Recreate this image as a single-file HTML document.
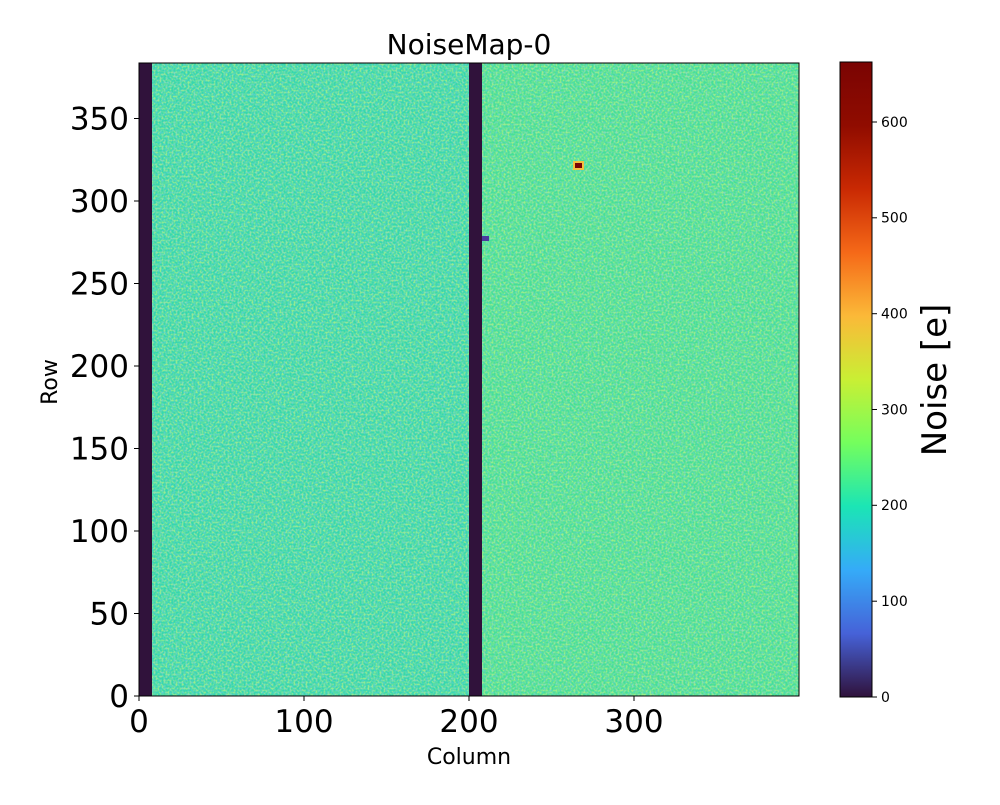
<!DOCTYPE html>
<html><head><style>body{margin:0;background:#fff}</style></head><body>
<svg width="1000" height="800" xmlns="http://www.w3.org/2000/svg" font-family="DejaVu Sans, Liberation Sans, sans-serif">
<defs>
<linearGradient id="t" x1="0" y1="1" x2="0" y2="0">
<stop offset="0" stop-color="#30123b"/><stop offset="0.1" stop-color="#4662d8"/><stop offset="0.2" stop-color="#35abf8"/><stop offset="0.3" stop-color="#1be5b5"/><stop offset="0.4" stop-color="#74fe5d"/><stop offset="0.5" stop-color="#c9ef34"/><stop offset="0.6" stop-color="#fbb938"/><stop offset="0.7" stop-color="#f56918"/><stop offset="0.8" stop-color="#c92903"/><stop offset="0.9" stop-color="#900c00"/><stop offset="1" stop-color="#7a0403"/>
</linearGradient>
<filter id="n" x="0" y="0" width="100%" height="100%"><feTurbulence type="fractalNoise" baseFrequency="0.5" numOctaves="1" seed="3"/><feColorMatrix type="matrix" values="0 0 0 0 0.7  0 0 0 0 0.95  0 0 0 0 0.2  0 0 0 3 -1.2"/></filter>
<filter id="m" x="0" y="0" width="100%" height="100%"><feTurbulence type="fractalNoise" baseFrequency="0.5" numOctaves="1" seed="9"/><feColorMatrix type="matrix" values="0 0 0 0 0.2  0 0 0 0 0.6  0 0 0 0 0.85  0 0 0 3 -1.3"/></filter>
</defs>
<rect x="139" y="63" width="330" height="633" fill="#36d7ad"/>
<rect x="482" y="63" width="317" height="633" fill="#46df98"/>
<rect x="139" y="63" width="660" height="633" fill="#fff" filter="url(#n)" opacity="0.6"/>
<rect x="139" y="63" width="660" height="633" fill="#fff" filter="url(#m)" opacity="0.5"/>
<rect x="139" y="63" width="13" height="633" fill="#30123b"/>
<rect x="469" y="63" width="13" height="633" fill="#30123b"/>
<rect x="574" y="162" width="9" height="7" fill="#7a0403" stroke="#f5c040" stroke-width="2"/>
<rect x="482" y="236" width="7" height="5" fill="#4a3aa0"/>
<rect x="139" y="63" width="660" height="633" fill="none" stroke="#000" stroke-width="1"/>
<g stroke="#000">
<line x1="139" y1="696" x2="139" y2="701"/><line x1="304" y1="696" x2="304" y2="701"/><line x1="469" y1="696" x2="469" y2="701"/><line x1="634" y1="696" x2="634" y2="701"/>
<line x1="134" y1="696" x2="139" y2="696"/><line x1="134" y1="613.5" x2="139" y2="613.5"/><line x1="134" y1="531" x2="139" y2="531"/><line x1="134" y1="448.5" x2="139" y2="448.5"/><line x1="134" y1="366" x2="139" y2="366"/><line x1="134" y1="283.5" x2="139" y2="283.5"/><line x1="134" y1="201" x2="139" y2="201"/><line x1="134" y1="118.5" x2="139" y2="118.5"/>
</g>
<g font-size="31" text-anchor="middle">
<text x="139" y="732">0</text><text x="304" y="732">100</text><text x="469" y="732">200</text><text x="634" y="732">300</text>
</g>
<g font-size="31" text-anchor="end">
<text x="129" y="707">0</text><text x="129" y="624.5">50</text><text x="129" y="542">100</text><text x="129" y="459.5">150</text><text x="129" y="377">200</text><text x="129" y="294.5">250</text><text x="129" y="212">300</text><text x="129" y="129.5">350</text>
</g>
<text x="469" y="764" font-size="22" text-anchor="middle">Column</text>
<text transform="translate(57,382) rotate(-90)" font-size="22" text-anchor="middle">Row</text>
<text x="469" y="54" font-size="28" text-anchor="middle">NoiseMap-0</text>
<rect x="840" y="62" width="32" height="635" fill="url(#t)" stroke="#000" stroke-width="1"/>
<g stroke="#000"><line x1="872" y1="697" x2="877" y2="697"/><line x1="872" y1="601.2" x2="877" y2="601.2"/><line x1="872" y1="505.3" x2="877" y2="505.3"/><line x1="872" y1="409.5" x2="877" y2="409.5"/><line x1="872" y1="313.7" x2="877" y2="313.7"/><line x1="872" y1="217.8" x2="877" y2="217.8"/><line x1="872" y1="122" x2="877" y2="122"/></g>
<g font-size="14">
<text x="881" y="702">0</text><text x="881" y="606">100</text><text x="881" y="510">200</text><text x="881" y="414.5">300</text><text x="881" y="318.5">400</text><text x="881" y="222.5">500</text><text x="881" y="127">600</text>
</g>
<text transform="translate(946,380) rotate(-90)" font-size="34" text-anchor="middle">Noise [e]</text>
</svg>
</body></html>
